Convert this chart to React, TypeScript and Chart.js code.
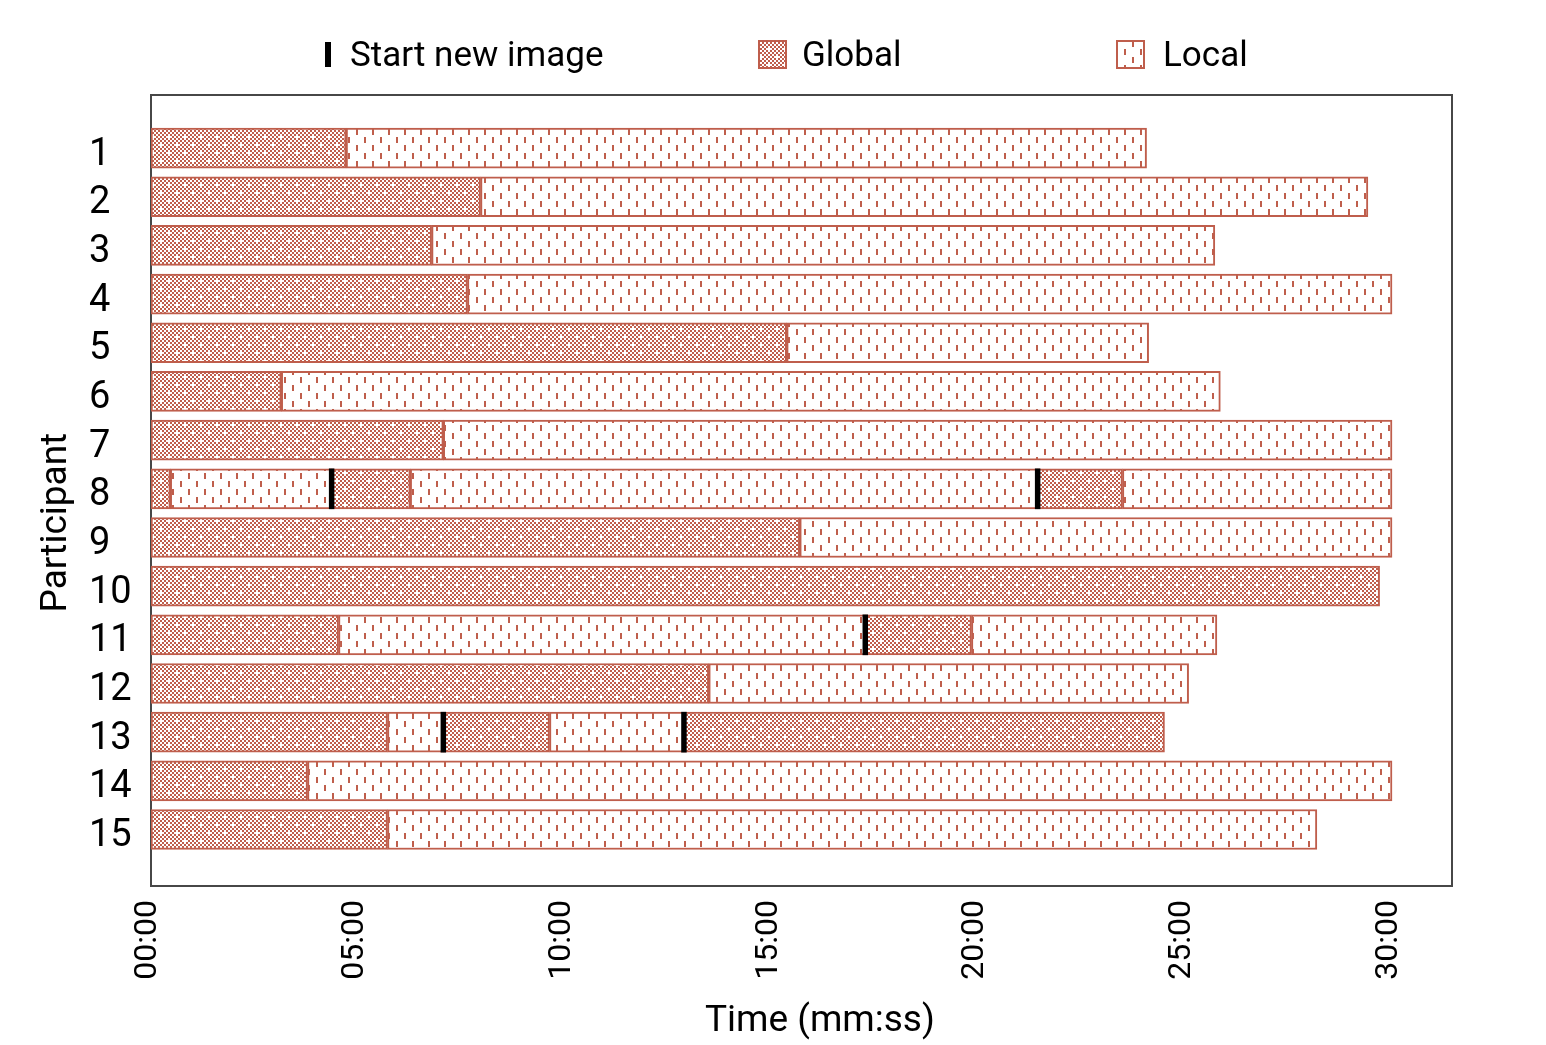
import React, { useEffect, useRef } from 'react';
import { Chart, registerables } from 'chart.js';

Chart.register(...registerables);

// ---- Data (seconds) ----
const participants = [1, 2, 3, 4, 5, 6, 7, 8, 9, 10, 11, 12, 13, 14, 15];

// [participant, start, end]
const globalSegments: [number, number, number][] = [
  [1, 0, 283], [2, 0, 478], [3, 0, 407], [4, 0, 459], [5, 0, 922],
  [6, 0, 189], [7, 0, 424],
  [8, 0, 28], [8, 262, 376], [8, 1286, 1409],
  [9, 0, 941], [10, 0, 1782],
  [11, 0, 272], [11, 1036, 1190],
  [12, 0, 809],
  [13, 0, 343], [13, 424, 578], [13, 773, 1470],
  [14, 0, 227], [15, 0, 343],
];

const localSegments: [number, number, number][] = [
  [1, 283, 1444], [2, 478, 1765], [3, 407, 1543], [4, 459, 1800], [5, 922, 1447],
  [6, 189, 1551], [7, 424, 1800],
  [8, 28, 262], [8, 376, 1286], [8, 1409, 1800],
  [9, 941, 1800],
  [11, 272, 1036], [11, 1190, 1546],
  [12, 809, 1505],
  [13, 343, 424], [13, 578, 773],
  [14, 227, 1800], [15, 343, 1691],
];

// [participant, time]
const newImageStarts: [number, number][] = [
  [8, 262], [8, 1286], [11, 1036], [13, 424], [13, 773],
];

const xTicks = [0, 300, 600, 900, 1200, 1500, 1800];
const xMax = 1887;
const markerHalfWidth = 3.5;

const seriesLabels = ['Start new image', 'Global', 'Local'];
const xTitle = 'Time (mm:ss)';
const yTitle = 'Participant';

const BAR_COLOR = '#bf5e4c';
const FRAME_COLOR = '#474747';

function fmt(sec: number): string {
  const m = Math.floor(sec / 60);
  const s = Math.round(sec % 60);
  return String(m).padStart(2, '0') + ':' + String(s).padStart(2, '0');
}

function makeGlobalPattern(ctx: CanvasRenderingContext2D): CanvasPattern {
  const c = document.createElement('canvas');
  c.width = 16;
  c.height = 16;
  const g = c.getContext('2d')!;
  g.fillStyle = '#ffffff';
  g.fillRect(0, 0, 16, 16);
  g.fillStyle = BAR_COLOR;
  for (let i = 0; i < 8; i++) {
    for (let j = 0; j < 8; j++) {
      if ((i + j) % 2 === 0) {
        if ((i === 0 && j === 0) || (i === 4 && j === 4)) continue;
        g.fillRect(i * 2, j * 2, 2, 2);
      }
    }
  }
  return ctx.createPattern(c, 'repeat')!;
}

function makeLocalPattern(ctx: CanvasRenderingContext2D): CanvasPattern {
  const c = document.createElement('canvas');
  c.width = 16;
  c.height = 16;
  const g = c.getContext('2d')!;
  g.fillStyle = '#ffffff';
  g.fillRect(0, 0, 16, 16);
  g.fillStyle = BAR_COLOR;
  g.fillRect(4, 1, 2, 6);
  g.fillRect(12, 9, 2, 6);
  return ctx.createPattern(c, 'repeat')!;
}

const framePlugin = {
  id: 'frame',
  beforeDatasetsDraw(chart: any) {
    const { ctx, chartArea } = chart;
    ctx.save();
    ctx.strokeStyle = FRAME_COLOR;
    ctx.lineWidth = 2;
    ctx.strokeRect(chartArea.left, chartArea.top, chartArea.right - chartArea.left, chartArea.bottom - chartArea.top);
    ctx.restore();
  },
};

const legendPlugin = {
  id: 'customLegend',
  afterDraw(chart: any) {
    const { ctx } = chart;
    const ds = chart.data.datasets;
    ctx.save();
    ctx.font = '35px Roboto';
    ctx.textBaseline = 'middle';
    ctx.textAlign = 'left';
    // Start new image
    ctx.fillStyle = '#000000';
    ctx.fillRect(325, 42, 6, 25);
    ctx.fillText(ds[0].label, 350, 57);
    // Global
    ctx.fillStyle = ds[1].backgroundColor;
    ctx.fillRect(758, 40, 29, 29);
    ctx.strokeStyle = BAR_COLOR;
    ctx.lineWidth = 2;
    ctx.strokeRect(759, 41, 27, 27);
    ctx.fillStyle = '#000000';
    ctx.fillText(ds[1].label, 802, 57);
    // Local
    ctx.fillStyle = ds[2].backgroundColor;
    ctx.fillRect(1116, 40, 29, 29);
    ctx.strokeRect(1117, 41, 27, 27);
    ctx.fillStyle = '#000000';
    ctx.fillText(ds[2].label, 1163, 57);
    ctx.restore();
  },
};

export default function App() {
  const canvasRef = useRef<HTMLCanvasElement | null>(null);

  useEffect(() => {
    const canvas = canvasRef.current;
    if (!canvas) return;
    const ctx = canvas.getContext('2d')!;
    const globalPattern = makeGlobalPattern(ctx);
    const localPattern = makeLocalPattern(ctx);

    const chart = new Chart(ctx, {
      type: 'bar',
      data: {
        datasets: [
          {
            label: seriesLabels[0],
            data: newImageStarts.map(([p, t]) => ({ x: [t - markerHalfWidth, t + markerHalfWidth], y: p })),
            backgroundColor: '#000000',
            borderWidth: 0,
            barThickness: 40,
            grouped: false,
          } as any,
          {
            label: seriesLabels[1],
            data: globalSegments.map(([p, s, e]) => ({ x: [s, e], y: p })),
            backgroundColor: globalPattern,
            borderColor: BAR_COLOR,
            borderWidth: 2,
            borderSkipped: false,
            barThickness: 40,
            grouped: false,
          } as any,
          {
            label: seriesLabels[2],
            data: localSegments.map(([p, s, e]) => ({ x: [s, e], y: p })),
            backgroundColor: localPattern,
            borderColor: BAR_COLOR,
            borderWidth: 2,
            borderSkipped: false,
            barThickness: 40,
            grouped: false,
          } as any,
        ],
      },
      options: {
        indexAxis: 'y',
        animation: false,
        responsive: false,
        devicePixelRatio: 1,
        layout: { padding: { top: 95, right: 94, left: 89, bottom: 0 } },
        plugins: {
          legend: { display: false },
          tooltip: { enabled: false },
        },
        scales: {
          x: {
            type: 'linear',
            bounds: 'data',
            offset: false,
            min: 0,
            max: xMax,
            grid: { display: false, drawTicks: false, offset: false },
            border: { display: false },
            afterBuildTicks: (s: any) => {
              s.ticks = xTicks.map((v) => ({ value: v }));
            },
            afterFit: (s: any) => {
              s.height = 159;
            },
            ticks: {
              autoSkip: false,
              minRotation: 90,
              maxRotation: 90,
              padding: 14,
              labelOffset: -3,
              color: '#000000',
              font: { family: 'Roboto', size: 32 },
              callback: (v: any) => fmt(Number(v)),
            },
            title: {
              display: true,
              text: '    ' + xTitle,
              color: '#000000',
              font: { family: 'Roboto', size: 37 },
              padding: { top: 0, bottom: 1 },
            },
          },
          y: {
            type: 'linear',
            bounds: 'data',
            offset: false,
            reverse: true,
            min: -0.09,
            max: 16.16,
            grid: { display: false, drawTicks: false, offset: false },
            border: { display: false },
            afterBuildTicks: (s: any) => {
              s.ticks = participants.map((v) => ({ value: v }));
            },
            afterFit: (s: any) => {
              s.width = 62;
            },
            ticks: {
              autoSkip: false,
              crossAlign: 'far',
              padding: 16,
              labelOffset: 7,
              color: '#000000',
              font: { family: 'Roboto', size: 38 },
              callback: (v: any) => String(v),
            },
            title: {
              display: true,
              text: yTitle + '       ',
              color: '#000000',
              font: { family: 'Roboto', size: 37 },
              padding: { top: -54, bottom: 0 },
            },
          },
        },
      } as any,
      plugins: [framePlugin, legendPlugin],
    });

    return () => {
      chart.destroy();
    };
  }, []);

  return (
    <div style={{ position: 'absolute', left: 0, top: 0, width: 1546, height: 1045, background: '#ffffff' }}>
      <canvas ref={canvasRef} width={1546} height={1045} style={{ display: 'block', width: 1546, height: 1045 }} />
    </div>
  );
}
